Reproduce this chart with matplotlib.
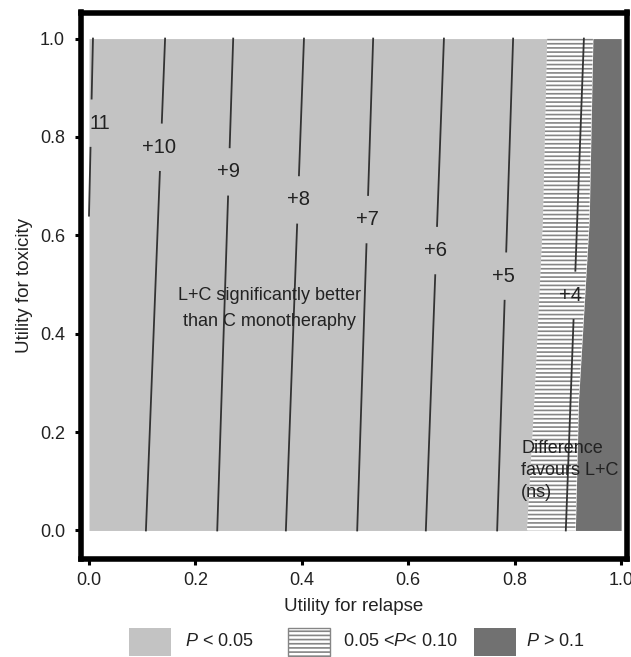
import numpy as np
import matplotlib
matplotlib.use("Agg")
import matplotlib.pyplot as plt
from matplotlib.patches import Rectangle

plt.rcParams['font.family'] = ['Liberation Sans', 'DejaVu Sans']
plt.rcParams['mathtext.fontset'] = 'custom'
plt.rcParams['mathtext.it'] = 'Liberation Sans:italic'
plt.rcParams['mathtext.rm'] = 'Liberation Sans'
plt.rcParams['hatch.linewidth'] = 1.2

# ---- data ----
# region boundaries (x at given y)
boundary_y = [0.0, 0.265, 0.63, 1.0]
sig05_x = [0.823, 0.837, 0.853, 0.861]     # P<0.05 | 0.05<P<0.10
sig10_x = [0.914, 0.920, 0.940, 0.947]     # 0.05<P<0.10 | P>0.1

# contour lines: label, x at bottom, y at bottom, x at top (y=1)
contour_labels = ["11", "+10", "+9", "+8", "+7", "+6", "+5", "+4"]
contour_x_bot = [0.000, 0.107, 0.241, 0.370, 0.504, 0.633, 0.767, 0.896]
contour_y_bot = [0.64, 0.0, 0.0, 0.0, 0.0, 0.0, 0.0, 0.0]
contour_x_top = [0.0075, 0.143, 0.271, 0.404, 0.534, 0.667, 0.797, 0.930]
label_x = [0.021, 0.132, 0.263, 0.393, 0.523, 0.652, 0.778, 0.904]
label_y = [0.828, 0.779, 0.729, 0.672, 0.632, 0.569, 0.517, 0.478]

xticks = [0.0, 0.2, 0.4, 0.6, 0.8, 1.0]
yticks = [0.0, 0.2, 0.4, 0.6, 0.8, 1.0]

GREY = '#c3c3c3'
DARK = '#717171'
HATCH = '#858585'
TXT = '#222222'
FS = 13

fig = plt.figure(figsize=(6.31, 6.57), dpi=100)
ax = fig.add_axes([81/631, 1-558.5/657, (627-81)/631, (558.5-12.5)/657])

by = np.array(boundary_y)
ax.fill_betweenx(by, 0, sig05_x, color=GREY, linewidth=0, zorder=1)
ax.fill_betweenx(by, sig05_x, sig10_x, facecolor='white', edgecolor=HATCH,
                 hatch='----', linewidth=0, zorder=1)
ax.fill_betweenx(by, sig10_x, 1, color=DARK, linewidth=0, zorder=1)

gap = 0.05
for lab, xb, yb, xt, lx, ly in zip(contour_labels, contour_x_bot, contour_y_bot,
                                   contour_x_top, label_x, label_y):
    ys = [yb, 1.0]
    xs = [xb, xt]
    y1, y2 = ly - gap, ly + gap
    x1 = np.interp(y1, ys, xs)
    x2 = np.interp(y2, ys, xs)
    if y1 > yb:
        ax.plot([xb, x1], [yb, y1], color='#333333', lw=1.3, zorder=2)
    ax.plot([x2, xt], [y2, 1.0], color='#333333', lw=1.3, zorder=2)
    ax.text(lx, ly, lab, ha='center', va='center', fontsize=14.5, color=TXT, zorder=3)

ax.text(0.34, 0.451, "L+C significantly better\nthan C monotheraphy", ha='center',
        va='center', fontsize=FS, color=TXT, linespacing=1.7, zorder=3)
ax.text(0.812, 0.122, "Difference\nfavours L+C\n(ns)", ha='left', va='center',
        fontsize=FS, color=TXT, linespacing=1.38, zorder=3)

ax.set_xlim(-0.015, 1.011)
ax.set_ylim(-0.057, 1.053)
ax.set_xticks(xticks)
ax.set_yticks(yticks)
ax.set_xticklabels([f"{v:.1f}" for v in xticks])
ax.set_yticklabels([f"{v:.1f}" for v in yticks])
ax.tick_params(axis='both', direction='out', length=4.5, width=2.2, colors='black',
               labelsize=FS, labelcolor=TXT)
ax.tick_params(axis='y', pad=7)
ax.tick_params(axis='x', pad=5)
for s in ax.spines.values():
    s.set_linewidth(4)
    s.set_color('black')
ax.set_xlabel("Utility for relapse", fontsize=13.5, color=TXT, labelpad=7)
ax.set_ylabel("Utility for toxicity", fontsize=13.5, color=TXT, labelpad=5)

# legend (manual)
leg_items = [("$P$ < 0.05", GREY, None, 129, 185),
             ("0.05 <$P$< 0.10", 'white', '----', 288, 343),
             ("$P$ > 0.1", DARK, None, 474, 526)]
W, H = 631, 657
for lab, fc, hatch, px, tx in leg_items:
    if hatch:
        r = Rectangle((px/W, 1/H), 42/W, 28/H, transform=fig.transFigure,
                      facecolor=fc, edgecolor=HATCH, hatch=hatch, linewidth=1)
    else:
        r = Rectangle((px/W, 1/H), 42/W, 28/H, transform=fig.transFigure,
                      facecolor=fc, edgecolor='none')
    fig.add_artist(r)
    fig.text(tx/W, 1-642/H, lab, ha='left', va='center', fontsize=FS, color=TXT)

fig.savefig("out.png", dpi=100)
